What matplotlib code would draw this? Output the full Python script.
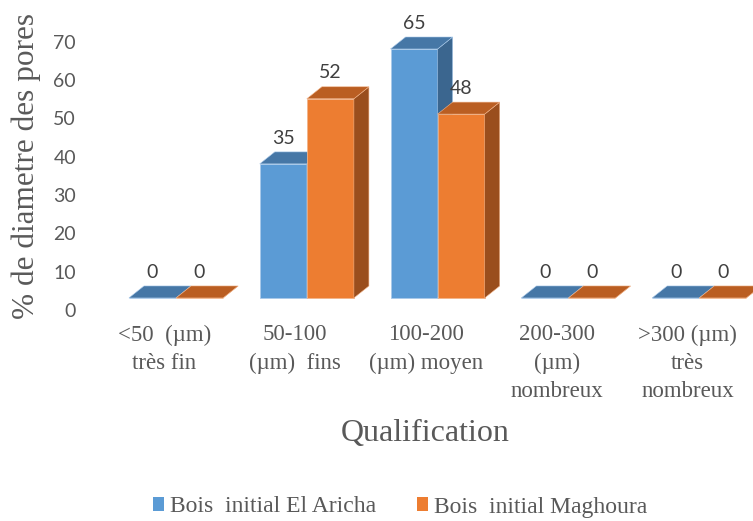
import numpy as np
import matplotlib.pyplot as plt
from matplotlib.patches import Polygon, Patch

# données
categories = ["<50  (µm)\ntrès fin", "50-100\n(µm)  fins", "100-200\n(µm) moyen",
              "200-300\n(µm)\nnombreux", ">300 (µm)\ntrès\nnombreux"]
el_aricha = [0, 35, 65, 0, 0]
maghoura = [0, 52, 48, 0, 0]
series_names = ["Bois  initial El Aricha", "Bois  initial Maghoura"]
y_ticks = [0, 10, 20, 30, 40, 50, 60, 70]

# couleurs (face avant, dessus, côté)
bleu = ("#5B9BD5", "#4677A6", "#3B668F")
orange = ("#ED7D31", "#BA5E22", "#9A4E1D")
gris = "#595959"

W = 0.36      # largeur d'une barre
DX = 0.115    # profondeur (x)
DY = 3.13     # profondeur (y)

fig = plt.figure(figsize=(7.53, 5.21), dpi=100)
ax = fig.add_axes([0.1295, 0.3987, 0.872, 0.5808])


def barre3d(ax, x0, h, couleurs, edge):
    front, top, side = couleurs
    # face avant
    ax.add_patch(Polygon([(x0, 0), (x0 + W, 0), (x0 + W, h), (x0, h)],
                         closed=True, fc=front, ec=edge, lw=0.6))
    # côté droit
    ax.add_patch(Polygon([(x0 + W, 0), (x0 + W + DX, DY), (x0 + W + DX, h + DY), (x0 + W, h)],
                         closed=True, fc=side, ec=edge, lw=0.4))
    # dessus
    ax.add_patch(Polygon([(x0, h), (x0 + W, h), (x0 + W + DX, h + DY), (x0 + DX, h + DY)],
                         closed=True, fc=top, ec=edge, lw=0.4))
    ax.annotate(f"{h:g}", (x0 + W / 2, h + DY), xytext=(0, 10), textcoords="offset points",
                ha="center", va="center", fontsize=14, color="#404040", family="Lato")


x = np.arange(len(categories))
for i in x:
    barre3d(ax, i - W, el_aricha[i], bleu, "#A9C9EA")
    barre3d(ax, i, maghoura[i], orange, "#F2B48A")

ax.set_xlim(-0.6, 4.42)
ax.set_ylim(-4, 75)

# les étiquettes de l'axe sont décalées vers le fond du graphe
ax.set_yticks(np.array(y_ticks) - 3.1)
ax.set_yticklabels([str(v) for v in y_ticks], fontsize=14, color=gris, family="Lato")
ax.set_xticks(x - 0.09)
ax.set_xticklabels(categories, fontsize=16.5, color=gris, family="Liberation Serif",
                   linespacing=1.45)
ax.tick_params(axis="y", length=0, pad=15.5)
ax.tick_params(axis="x", length=0, pad=8)
for s in ax.spines.values():
    s.set_visible(False)

fig.text(26 / 753, 1 - 166 / 521, "% de diametre des pores", rotation=90, ha="center",
         va="center", fontsize=22.5, color=gris, family="Liberation Serif")
fig.text(425 / 753, 1 - 433 / 521, "Qualification", ha="center", va="center",
         fontsize=23, color=gris, family="Liberation Serif")

handles = [Patch(fc=bleu[0], ec="none"), Patch(fc=orange[0], ec="none")]
fig.legend(handles, series_names, loc="center", bbox_to_anchor=(400 / 753, 14 / 521),
           ncol=2, frameon=False, handlelength=0.5, handleheight=0.5,
           handletextpad=0.25, columnspacing=1.7,
           prop={"family": "Liberation Serif", "size": 17}, labelcolor=gris)

fig.savefig("out.png", dpi=100)
